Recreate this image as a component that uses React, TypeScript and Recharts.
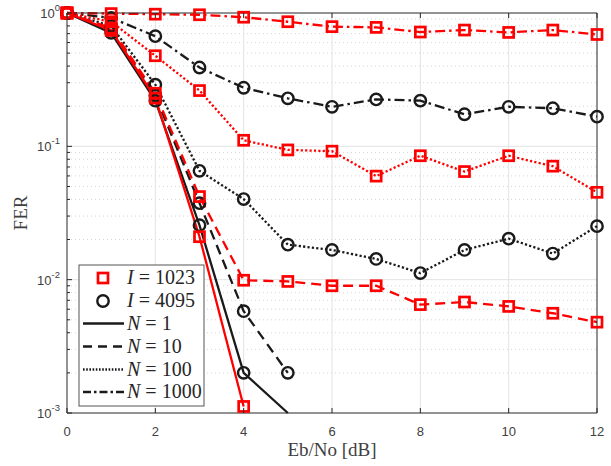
import React from 'react';
import { LineChart, Line, XAxis, YAxis, CartesianGrid } from 'recharts';

// ---- data ----
const ebno = [0, 1, 2, 3, 4, 5, 6, 7, 8, 9, 10, 11, 12];
const i1023_n1000 = [1.0, 0.99, 0.98, 0.97, 0.93, 0.86, 0.79, 0.78, 0.72, 0.745, 0.715, 0.745, 0.69];
const i4095_n1000 = [1.0, 0.92, 0.67, 0.39, 0.275, 0.229, 0.198, 0.225, 0.22, 0.174, 0.198, 0.193, 0.167];
const i1023_n100 = [1.0, 0.86, 0.478, 0.262, 0.111, 0.094, 0.092, 0.0598, 0.085, 0.0647, 0.085, 0.071, 0.0452];
const i4095_n100 = [1.0, 0.8, 0.29, 0.0655, 0.0402, 0.0183, 0.0167, 0.0143, 0.0112, 0.0167, 0.0203, 0.0157, 0.0252];
const i1023_n10 = [1.0, 0.77, 0.25, 0.042, 0.0099, 0.0097, 0.009, 0.009, 0.0065, 0.0068, 0.0063, 0.0056, 0.0048];
const i4095_n10 = [1.0, 0.75, 0.24, 0.0375, 0.0058, 0.002];
const i1023_n1 = [1.0, 0.74, 0.23, 0.021, 0.00112];
const i4095_n1 = [1.0, 0.71, 0.22, 0.0256, 0.002, 0.001];
const i4095_n1_marker = [true, true, true, true, true, false];

const xTicks = [0, 2, 4, 6, 8, 10, 12];
const yMajor = [1, 0.1, 0.01, 0.001];
const yMajorExp = [0, -1, -2, -3];
const yMinor = [
  0.002, 0.003, 0.004, 0.005, 0.006, 0.007, 0.008, 0.009,
  0.02, 0.03, 0.04, 0.05, 0.06, 0.07, 0.08, 0.09,
  0.2, 0.3, 0.4, 0.5, 0.6, 0.7, 0.8, 0.9,
];
const xGrid = [2, 4, 6, 8, 10];
const yGrid = [0.1, 0.01];

const legendItems = [
  { kind: 'square', sym: 'I', val: '1023' },
  { kind: 'circle', sym: 'I', val: '4095' },
  { kind: 'solid', sym: 'N', val: '1' },
  { kind: 'dashed', sym: 'N', val: '10' },
  { kind: 'dotted', sym: 'N', val: '100' },
  { kind: 'dashdot', sym: 'N', val: '1000' },
];

const rows = ebno.map((x, i) => ({
  x,
  a: i1023_n1000[i],
  b: i4095_n1000[i],
  c: i1023_n100[i],
  d: i4095_n100[i],
  e: i1023_n10[i],
  f: i4095_n10[i],
  g: i1023_n1[i],
  h: i4095_n1[i],
}));

// ---- styles ----
const RED = '#ff0000';
const BLACK = '#1a1a1a';
const AXIS = '#262626';
const TICKTXT = '#404040';
const SANS = 'Liberation Sans, Arial, sans-serif';
const SERIF = 'Liberation Serif, Times New Roman, serif';
const LW = 2.3;
const DASH = '10 6';
const DOT = '2.2 2.2';
const DASHDOT = '10 4 2.5 4';

const squareDot = (color: string, flags?: boolean[]) => (props: any) => {
  const { cx, cy, index } = props;
  if (cx == null || cy == null || props.value == null) return <g key={`s${index}`} />;
  if (flags && flags[index] === false) return <g key={`s${index}`} />;
  return (
    <rect key={`s${index}`} x={cx - 5} y={cy - 5} width={10} height={10}
      fill="none" stroke={color} strokeWidth={2.7} />
  );
};
const circleDot = (color: string, flags?: boolean[]) => (props: any) => {
  const { cx, cy, index } = props;
  if (cx == null || cy == null || props.value == null) return <g key={`c${index}`} />;
  if (flags && flags[index] === false) return <g key={`c${index}`} />;
  return <circle key={`c${index}`} cx={cx} cy={cy} r={5.7} fill="none" stroke={color} strokeWidth={2.4} />;
};

const BottomTick = (props: any) => {
  const { x, y, payload } = props;
  return (
    <g>
      <line x1={x} y1={y} x2={x} y2={y - 5} stroke={AXIS} strokeWidth={1} />
      <text x={x} y={y + 23} textAnchor="middle" fontFamily={SANS} fontSize={13} fill={TICKTXT}>
        {payload.value}
      </text>
    </g>
  );
};
const TopTick = (props: any) => {
  const { x, y } = props;
  return <line x1={x} y1={y} x2={x} y2={y + 5} stroke={AXIS} strokeWidth={1} />;
};
const LeftTick = (props: any) => {
  const { x, y, payload } = props;
  const mi = yMajor.indexOf(payload.value);
  const major = mi >= 0;
  return (
    <g>
      <line x1={x} y1={y} x2={x + (major ? 5 : 3)} y2={y} stroke={AXIS} strokeWidth={1} />
      {major && (
        <text x={x - 7} y={y + 5} textAnchor="end" fontFamily={SANS} fontSize={13} fill={TICKTXT}>
          10
          <tspan fontSize={9.5} dy={-7}>{String(yMajorExp[mi])}</tspan>
        </text>
      )}
    </g>
  );
};
const RightTick = (props: any) => {
  const { x, y, payload } = props;
  const major = yMajor.indexOf(payload.value) >= 0;
  return <line x1={x} y1={y} x2={x - (major ? 5 : 3)} y2={y} stroke={AXIS} strokeWidth={1} />;
};

const Legend = () => {
  const rowY = [14, 37, 59.5, 82.5, 105.5, 128];
  return (
    <svg width={127} height={143} style={{ position: 'absolute', left: 78, top: 264 }}>
      <rect x={1} y={1} width={125} height={141} fill="#fff" stroke="#555" strokeWidth={1} />
      {legendItems.map((it, i) => {
        const cy = rowY[i];
        let sample: any = null;
        if (it.kind === 'square')
          sample = <rect x={20} y={cy - 5} width={10} height={10} fill="none" stroke={RED} strokeWidth={2.7} />;
        else if (it.kind === 'circle')
          sample = <circle cx={25} cy={cy} r={5.7} fill="none" stroke={BLACK} strokeWidth={2.4} />;
        else {
          const da = it.kind === 'dashed' ? '9 6' : it.kind === 'dotted' ? '1.6 1.6' : it.kind === 'dashdot' ? '8 3 2.5 3' : undefined;
          sample = <line x1={5} y1={cy} x2={46} y2={cy} stroke={BLACK} strokeWidth={LW} strokeDasharray={da} />;
        }
        return (
          <g key={i}>
            {sample}
            <text x={49} y={cy + 6} fontFamily={SERIF} fontSize={20} fill={AXIS}>
              <tspan fontStyle="italic">{it.sym}</tspan>
              {' = '}
              {it.val}
            </text>
          </g>
        );
      })}
    </svg>
  );
};

export default function App() {
  return (
    <div style={{ position: 'absolute', left: 0, top: 0, width: 611, height: 466, background: '#fff' }}>
      <LineChart width={611} height={466} data={rows} margin={{ top: 0, right: 0, bottom: 0, left: 0 }}>
        <CartesianGrid xAxisId="b" yAxisId="l" horizontal={true} vertical={false}
          horizontalValues={yMinor} stroke="#d6d6d6" strokeDasharray="1 3" />
        <CartesianGrid xAxisId="b" yAxisId="l" horizontalValues={yGrid} verticalValues={xGrid}
          stroke="#e3e3e3" />
        <XAxis xAxisId="b" dataKey="x" type="number" domain={[0, 12]} ticks={xTicks}
          orientation="bottom" height={53} tickSize={0} tickMargin={0} tickLine={false}
          axisLine={{ stroke: AXIS }} tick={<BottomTick />} interval={0}
          label={{ value: 'Eb/No [dB]', position: 'insideBottom', offset: 10, fontFamily: SERIF, fontSize: 19, fill: TICKTXT }} />
        <XAxis xAxisId="t" type="number" domain={[0, 12]} ticks={xTicks}
          orientation="top" height={13} tickSize={0} tickMargin={0} tickLine={false}
          axisLine={{ stroke: AXIS }} tick={<TopTick />} interval={0} />
        <YAxis yAxisId="l" type="number" scale="log" domain={[0.001, 1]} ticks={[...yMajor, ...yMinor]}
          orientation="left" width={67} tickSize={0} tickMargin={0} tickLine={false}
          axisLine={{ stroke: AXIS }} tick={<LeftTick />} interval={0} />
        <YAxis yAxisId="r" type="number" scale="log" domain={[0.001, 1]} ticks={[...yMajor, ...yMinor]}
          orientation="right" width={14} tickSize={0} tickMargin={0} tickLine={false}
          axisLine={{ stroke: AXIS }} tick={<RightTick />} interval={0} />

        <Line xAxisId="b" yAxisId="l" dataKey="b" stroke={BLACK} strokeWidth={LW} strokeDasharray={DASHDOT}
          dot={circleDot(BLACK)} activeDot={false} isAnimationActive={false} />
        <Line xAxisId="b" yAxisId="l" dataKey="d" stroke={BLACK} strokeWidth={LW} strokeDasharray={DOT}
          dot={circleDot(BLACK)} activeDot={false} isAnimationActive={false} />
        <Line xAxisId="b" yAxisId="l" dataKey="f" stroke={BLACK} strokeWidth={LW} strokeDasharray={DASH}
          dot={circleDot(BLACK)} activeDot={false} isAnimationActive={false} />
        <Line xAxisId="b" yAxisId="l" dataKey="h" stroke={BLACK} strokeWidth={LW}
          dot={circleDot(BLACK, i4095_n1_marker)} activeDot={false} isAnimationActive={false} />
        <Line xAxisId="b" yAxisId="l" dataKey="a" stroke={RED} strokeWidth={LW} strokeDasharray={DASHDOT}
          dot={squareDot(RED)} activeDot={false} isAnimationActive={false} />
        <Line xAxisId="b" yAxisId="l" dataKey="c" stroke={RED} strokeWidth={LW} strokeDasharray={DOT}
          dot={squareDot(RED)} activeDot={false} isAnimationActive={false} />
        <Line xAxisId="b" yAxisId="l" dataKey="e" stroke={RED} strokeWidth={LW} strokeDasharray={DASH}
          dot={squareDot(RED)} activeDot={false} isAnimationActive={false} />
        <Line xAxisId="b" yAxisId="l" dataKey="g" stroke={RED} strokeWidth={LW}
          dot={squareDot(RED)} activeDot={false} isAnimationActive={false} />
      </LineChart>
      <svg width={40} height={60} style={{ position: 'absolute', left: 5, top: 183 }}>
        <text x={0} y={0} transform="translate(22,30) rotate(-90)" textAnchor="middle"
          fontFamily={SERIF} fontSize={19} fill={TICKTXT}>FER</text>
      </svg>
      <Legend />
    </div>
  );
}
